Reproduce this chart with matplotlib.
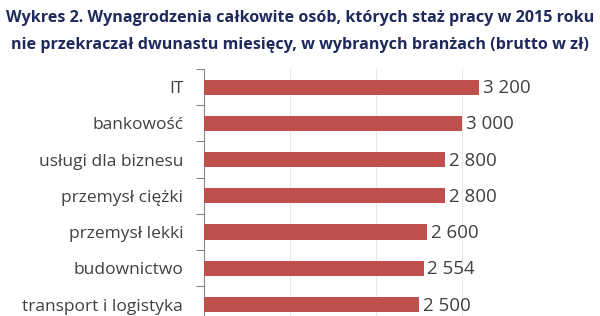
import matplotlib
matplotlib.use('Agg')
import matplotlib.pyplot as plt
import numpy as np

# dane z wykresu
branze = ["IT", "bankowość", "usługi dla biznesu", "przemysł ciężki",
          "przemysł lekki", "budownictwo", "transport i logistyka"]
wartosci = [3200, 3000, 2800, 2800, 2600, 2554, 2500]
etykiety = ["3 200", "3 000", "2 800", "2 800", "2 600", "2 554", "2 500"]

tytul = ("Wykres 2. Wynagrodzenia całkowite osób, których staż pracy w 2015 roku\n"
         "nie przekraczał dwunastu miesięcy, w wybranych branżach (brutto w zł)")

plt.rcParams['font.family'] = ['Open Sans', 'DejaVu Sans']

fig = plt.figure(figsize=(6, 3.16), dpi=100)
ax = fig.add_axes([0.34, -0.021, 0.573, 0.8026])

y = np.arange(len(branze))
ax.barh(y, wartosci, height=0.42, color='#C0504D', zorder=3)

for i in range(len(wartosci)):
    ax.text(wartosci[i] + 45, y[i] + 0.03, etykiety[i], va='center', ha='left',
            fontsize=13.5, color='#404040')

ax.set_xlim(0, 4000)
ax.set_ylim(len(branze) - 0.5, -0.5)
ax.set_xticks([1000, 2000, 3000, 4000])
ax.set_xticklabels([])
ax.tick_params(axis='x', length=0)
ax.grid(True, axis='x', color='#E8E8E8', linewidth=0.8, zorder=0)

ax.set_yticks(y)
ax.set_yticklabels(branze, fontsize=12.5, color='#404040')
ax.tick_params(axis='y', which='major', length=0, pad=15)
ax.set_yticks(np.arange(-0.5, len(branze), 1), minor=True)
ax.tick_params(axis='y', which='minor', length=6, color='#868686', width=0.8)

for s in ['top', 'right', 'bottom']:
    ax.spines[s].set_visible(False)
ax.spines['left'].set_color('#868686')
ax.spines['left'].set_linewidth(0.8)

fig.text(0.5, 0.9, tytul, ha='center', va='center', fontsize=11.6,
         fontweight='bold', color='#1F2A5C', linespacing=1.9)

fig.savefig('out.png', dpi=100)
